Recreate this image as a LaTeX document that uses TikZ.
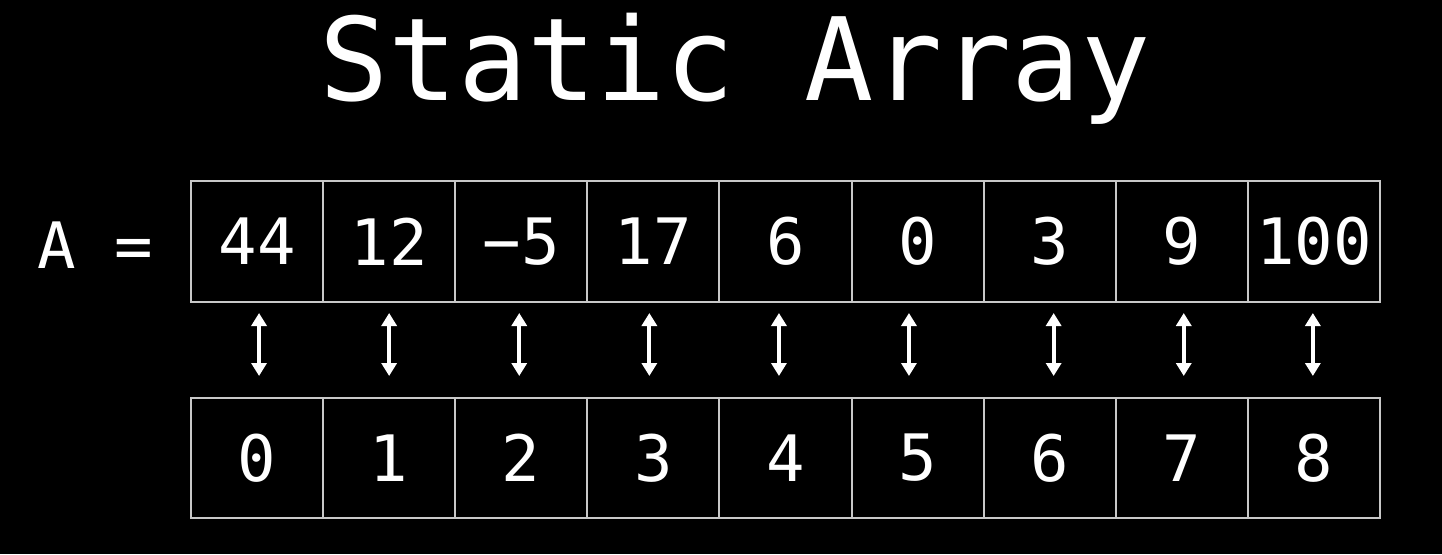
\documentclass[tikz,border=0pt]{standalone}
\usepackage{fontspec}
\setmonofont{DejaVu Sans Mono}
\usetikzlibrary{arrows.meta,positioning}
\definecolor{gridgray}{RGB}{200,200,200}
\newcommand{\cellfont}{\ttfamily\fontsize{64}{64}\selectfont}
\newcommand{\titlefont}{\ttfamily\fontsize{115}{115}\selectfont}

\begin{document}
\begin{tikzpicture}[x=1pt, y=-1pt, node distance=132.1pt,
    cell/.style={rectangle, draw=gridgray, line width=2pt, text=white,
        minimum width=132.1pt, minimum height=121pt, inner sep=0pt, font=\cellfont},
    idx/.style={cell, minimum height=120pt},
    line/.style={draw=white, line width=4pt,
        {Triangle[length=13pt,width=15pt]}-{Triangle[length=13pt,width=15pt]},
        shorten <=10pt, shorten >=21pt}
    ]

    % Background
    \fill[black] (0,0) rectangle (1442,554);
    \useasboundingbox (0,0) rectangle (1442,554);

    % Nodes
    \node [anchor=base, text=white, font=\titlefont] (title) at (735,100) {Static Array};
    \node [anchor=base, text=white, font=\cellfont] (lbl) at (95,268) {A =};

    \node [cell] (a0) at (257.05,241.5) {44};
    \node [cell, right of=a0] (a1) {12};
    \node [cell, right of=a1] (a2) {−5};
    \node [cell, right of=a2] (a3) {17};
    \node [cell, right of=a3] (a4) {6};
    \node [cell, right of=a4] (a5) {0};
    \node [cell, right of=a5] (a6) {3};
    \node [cell, right of=a6] (a7) {9};
    \node [cell, right of=a7] (a8) {100};

    \node [idx] (i0) at (257.05,458) {0};
    \node [idx, right of=i0] (i1) {1};
    \node [idx, right of=i1] (i2) {2};
    \node [idx, right of=i2] (i3) {3};
    \node [idx, right of=i3] (i4) {4};
    \node [idx, right of=i4] (i5) {5};
    \node [idx, right of=i5] (i6) {6};
    \node [idx, right of=i6] (i7) {7};
    \node [idx, right of=i7] (i8) {8};

    % Paths
    \draw[line] ([xshift=2pt]a0.south) -- ([xshift=2pt]i0.north);
    \draw[line] (a1.south) -- (i1.north);
    \draw[line] ([xshift=-2pt]a2.south) -- ([xshift=-2pt]i2.north);
    \draw[line] ([xshift=-4pt]a3.south) -- ([xshift=-4pt]i3.north);
    \draw[line] ([xshift=-6.5pt]a4.south) -- ([xshift=-6.5pt]i4.north);
    \draw[line] ([xshift=-8.6pt]a5.south) -- ([xshift=-8.6pt]i5.north);
    \draw[line] ([xshift=4pt]a6.south) -- ([xshift=4pt]i6.north);
    \draw[line] ([xshift=2pt]a7.south) -- ([xshift=2pt]i7.north);
    \draw[line] ([xshift=-1pt]a8.south) -- ([xshift=-1pt]i8.north);
\end{tikzpicture}
\end{document}
